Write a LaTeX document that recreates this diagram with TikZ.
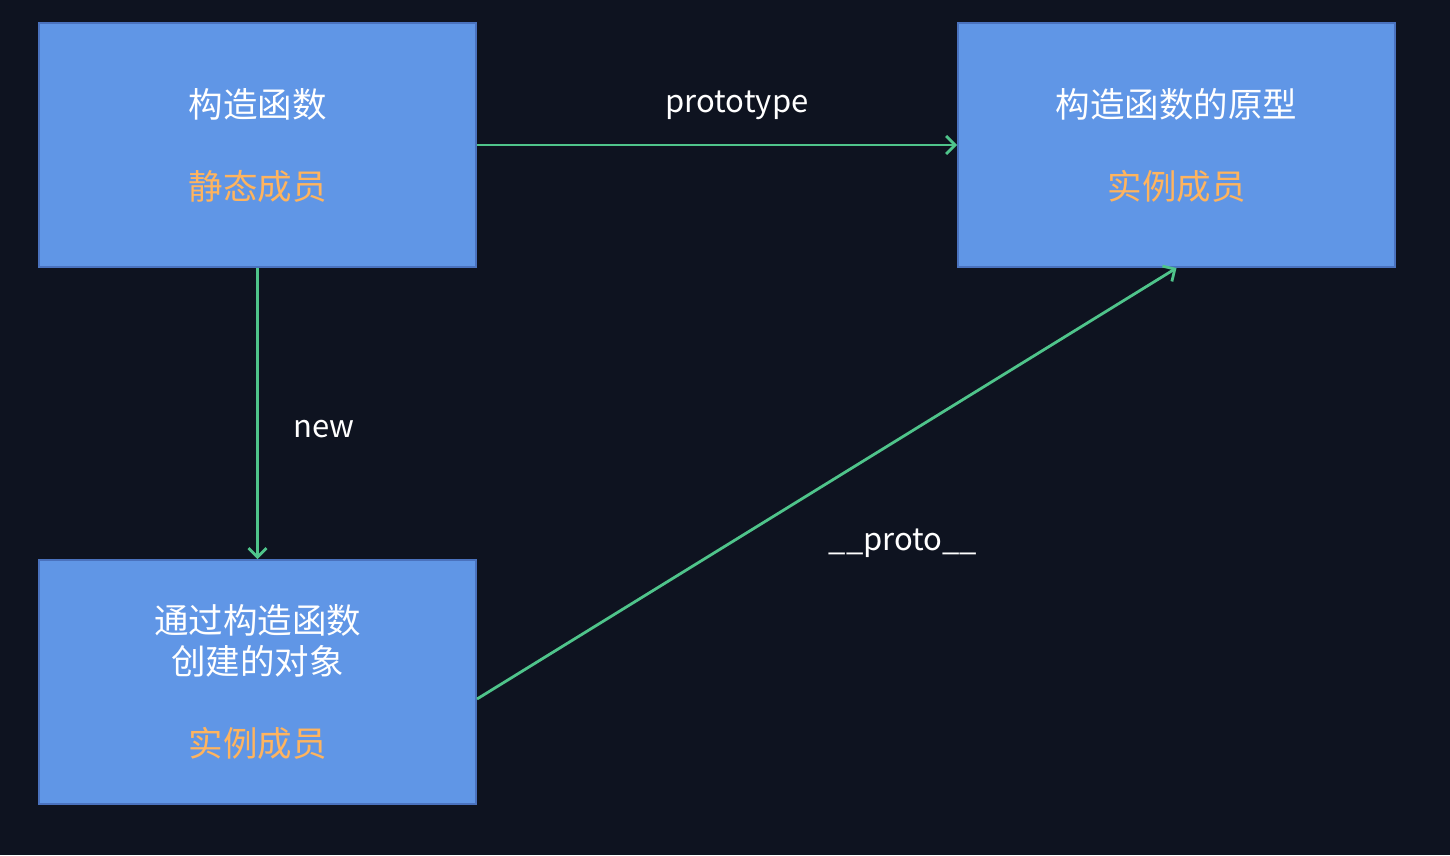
\documentclass[tikz,border=0pt]{standalone}
\usepackage{fontspec}
\setmainfont{Noto Sans CJK SC}
\usetikzlibrary{arrows.meta}
\definecolor{bgc}{HTML}{0E1320}
\definecolor{boxfill}{HTML}{6096E6}
\definecolor{boxline}{HTML}{4A72BE}
\definecolor{arr}{HTML}{4FC48B}
\definecolor{orng}{HTML}{FFB45E}
\begin{document}
\begin{tikzpicture}[x=1pt,y=-1pt,
  boxnode/.style={draw=boxline,line width=2pt,fill=boxfill,minimum width=437pt,minimum height=244pt,inner sep=0pt,text=white,align=center,font=\fontsize{34.5}{41}\selectfont},
  conn/.style={draw=arr,line width=2.8pt,-{Straight Barb[length=9pt,width=18pt,line width=2.8pt]}},
  lbl/.style={text=white,font=\fontsize{31}{37}\selectfont,inner sep=0pt}]
\fill[bgc] (0,0) rectangle (1450,855);
\useasboundingbox (0,0) rectangle (1450,855);
\node[boxnode] (ctor) at (257.5,145) {构造函数\\[41pt]\textcolor{orng}{静态成员}};
\node[boxnode] (proto) at (1176.5,145) {构造函数的原型\\[41pt]\textcolor{orng}{实例成员}};
\node[boxnode] (inst) at (257.5,682) {通过构造函数\\创建的对象\\[41pt]\textcolor{orng}{实例成员}};
\coordinate (instout) at ([yshift=-17pt]inst.east);
\draw[conn] (ctor.east) -- (proto.west);
\draw[conn] (ctor.south) -- (inst.north);
\draw[conn] (instout) -- (proto.south);
\node[lbl] (lp) at (737,105) {prototype};
\node[lbl] (ln) at (324,429) {new};
\node[lbl] (lpr) at (903,543) {\_\_proto\_\_};
\end{tikzpicture}
\end{document}
